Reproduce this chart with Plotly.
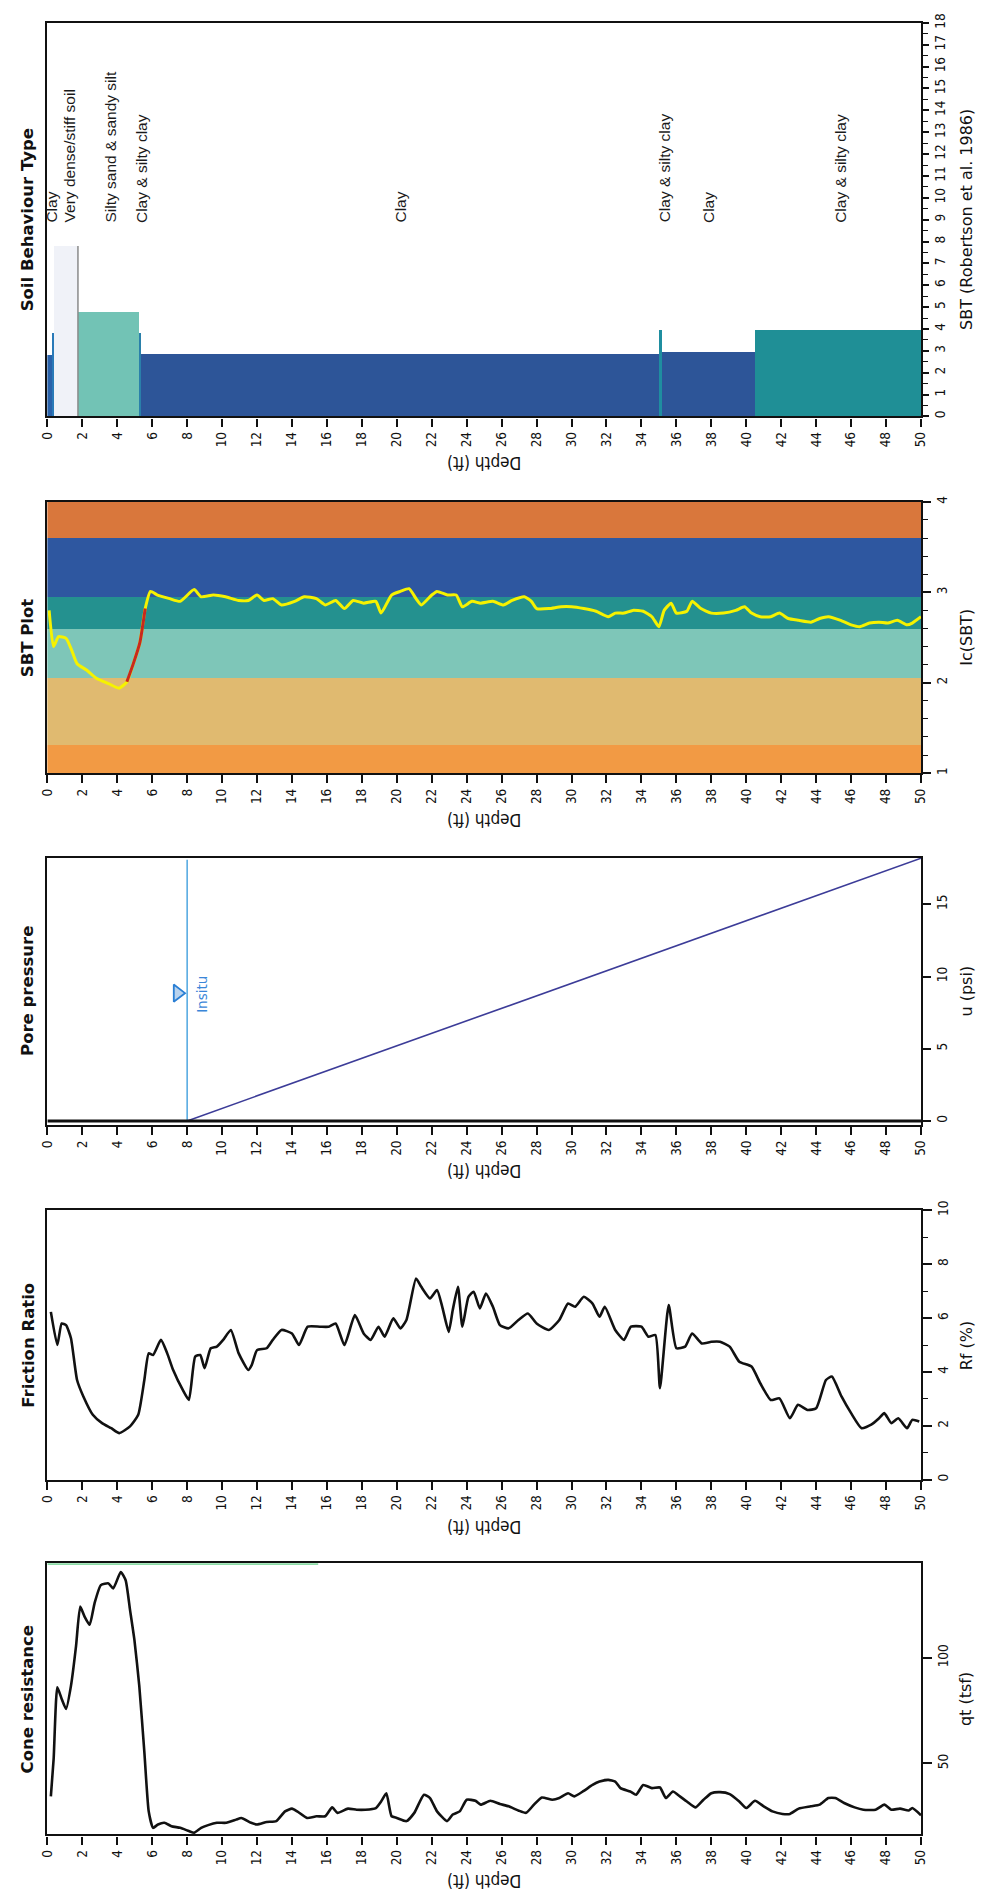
import plotly.graph_objects as go

# ---------------- data ----------------
depth_ticks = list(range(0, 51, 2))

# Soil Behaviour Type layers (depth in ft)
sbt_layer_top = [0.0, 0.3, 0.4, 1.75, 5.25, 5.4, 35.0, 35.2, 40.5]
sbt_layer_bottom = [0.3, 0.4, 1.75, 5.25, 5.4, 35.0, 35.2, 40.5, 50.0]
sbt_layer_value = [2.8, 3.8, 7.8, 4.8, 3.8, 2.85, 3.95, 2.95, 3.95]
sbt_layer_color = ["#2a62aa", "#2a7ab8", "#f0f2f8", "#72c3b5", "#2a80aa",
                   "#2d5598", "#1f8ea0", "#2d5598", "#1f8f96"]
sbt_label_text = ["Clay", "Very dense/stiff soil", "Silty sand & sandy silt",
                  "Clay & silty clay", "Clay", "Clay & silty clay", "Clay",
                  "Clay & silty clay"]
sbt_label_depth = [0.23, 1.25, 3.6, 5.35, 20.2, 35.3, 37.8, 45.4]
sbt_ticks = list(range(0, 19))

# Ic zone bands
ic_zone_low = [1.0, 1.31, 2.05, 2.6, 2.95, 3.6]
ic_zone_high = [1.31, 2.05, 2.6, 2.95, 3.6, 4.0]
ic_zone_color = ["#f29a44", "#e0ba70", "#7ec6b8", "#24918f", "#2e57a0", "#d9773c"]

# Ic(SBT) profile
ic_depth = [0.1, 0.35, 0.64, 1.07, 1.35, 1.7, 2.24, 2.8, 3.5, 4.1, 4.55, 4.9, 5.3, 5.6,
            5.9, 6.3, 7.0, 7.6, 8.4, 8.8, 9.5, 10.2, 10.95, 11.5, 12.0, 12.4, 12.9, 13.4,
            14.15, 14.7, 15.4, 15.9, 16.5, 17.0, 17.5, 18.1, 18.8, 19.1, 19.7, 20.2, 20.7,
            21.1, 21.4, 22.0, 22.3, 22.9, 23.4, 23.75, 24.3, 24.8, 25.5, 26.1, 26.6, 27.3,
            27.7, 28.0, 28.7, 29.4, 30.0, 30.7, 31.4, 32.1, 32.5, 33.0, 33.5, 34.1, 34.6,
            35.0, 35.3, 35.7, 36.0, 36.6, 36.9, 37.4, 38.0, 38.7, 39.4, 39.9, 40.3, 40.8,
            41.4, 41.9, 42.4, 43.0, 43.7, 44.2, 44.7, 45.4, 46.0, 46.5, 47.05, 47.6, 48.1,
            48.65, 49.2, 49.5, 50.0]
ic_values = [2.80, 2.40, 2.51, 2.49, 2.38, 2.21, 2.14, 2.05, 1.99, 1.94, 2.01, 2.20, 2.45,
             2.82, 3.01, 2.97, 2.93, 2.90, 3.03, 2.95, 2.97, 2.95, 2.91, 2.91, 2.97, 2.91,
             2.93, 2.86, 2.90, 2.95, 2.93, 2.86, 2.91, 2.82, 2.91, 2.88, 2.90, 2.77, 2.97,
             3.01, 3.04, 2.93, 2.86, 2.97, 3.01, 2.97, 2.97, 2.84, 2.90, 2.88, 2.90, 2.86,
             2.91, 2.95, 2.90, 2.82, 2.82, 2.84, 2.84, 2.82, 2.79, 2.73, 2.77, 2.77, 2.80,
             2.79, 2.73, 2.62, 2.80, 2.88, 2.77, 2.79, 2.90, 2.82, 2.77, 2.77, 2.80, 2.84,
             2.77, 2.73, 2.73, 2.77, 2.71, 2.69, 2.67, 2.71, 2.73, 2.69, 2.64, 2.62, 2.66,
             2.67, 2.66, 2.69, 2.64, 2.66, 2.73]
ic_red_depth = [4.55, 4.9, 5.3, 5.6]
ic_red_values = [2.01, 2.20, 2.45, 2.82]

# Pore pressure
u_depth = [0.0, 50.0]
u_measured = [0.0, 0.0]
u_hydro_depth = [8.0, 50.0]
u_hydro = [0.0, 18.2]
water_table_depth = 8.0
u_ticks = [0, 5, 10, 15]

# Friction ratio
rf_depth = [0.2, 0.57, 0.82, 1.07, 1.35, 1.7, 2.06, 2.6, 3.13, 3.66,
            4.12, 4.73, 5.2, 5.55, 5.8, 6.05, 6.5, 6.86, 7.2, 7.75,
            8.1, 8.46, 8.75, 9.0, 9.35, 9.7, 10.06, 10.5, 10.95, 11.5,
            11.7, 12.0, 12.55, 12.9, 13.4, 14.0, 14.4, 14.9, 15.6, 16.1,
            16.5, 17.0, 17.6, 18.1, 18.5, 18.95, 19.3, 19.8, 20.2, 20.55,
            21.1, 21.4, 21.9, 22.3, 22.6, 22.97, 23.2, 23.5, 23.75, 24.1,
            24.4, 24.75, 25.1, 25.5, 25.9, 26.4, 26.96, 27.5, 28.0, 28.7,
            29.3, 29.8, 30.2, 30.7, 31.2, 31.6, 31.9, 32.5, 33.0, 33.4,
            34.0, 34.4, 34.8, 35.06, 35.56, 36.0, 36.5, 36.9, 37.45, 38.0,
            38.5, 39.05, 39.6, 40.3, 40.8, 41.4, 41.9, 42.5, 42.96, 43.5,
            44.0, 44.56, 44.9, 45.45, 46.0, 46.6, 47.15, 47.6, 47.9, 48.3,
            48.7, 49.2, 49.5, 49.9]
rf_values = [6.23, 5.0, 5.8, 5.74, 5.25, 3.7, 3.09, 2.41, 2.10, 1.91,
             1.73, 1.98, 2.41, 3.70, 4.69, 4.63, 5.19, 4.69, 4.07, 3.33,
             2.96, 4.57, 4.63, 4.14, 4.88, 4.94, 5.19, 5.56, 4.69, 4.07,
             4.26, 4.81, 4.88, 5.19, 5.56, 5.43, 5.0, 5.68, 5.68, 5.68,
             5.80, 5.0, 6.11, 5.43, 5.19, 5.68, 5.31, 5.99, 5.62, 5.93,
             7.47, 7.16, 6.73, 7.04, 6.42, 5.49, 6.30, 7.16, 5.68, 6.79,
             6.98, 6.36, 6.91, 6.42, 5.74, 5.62, 5.93, 6.17, 5.80, 5.56,
             5.93, 6.54, 6.42, 6.79, 6.54, 6.05, 6.42, 5.56, 5.19, 5.68,
             5.68, 5.31, 5.37, 3.40, 6.48, 4.88, 4.94, 5.43, 5.06, 5.12,
             5.12, 4.94, 4.38, 4.20, 3.58, 2.96, 3.02, 2.28, 2.78, 2.59,
             2.65, 3.70, 3.83, 3.09, 2.47, 1.91, 2.04, 2.28, 2.47, 2.10,
             2.28, 1.91, 2.22, 2.16]
rf_ticks = [0, 2, 4, 6, 8, 10]

# Cone resistance
qt_depth = [0.2, 0.36, 0.57, 0.82, 1.07, 1.35, 1.64, 1.88, 2.13, 2.42,
            2.7, 3.06, 3.5, 3.77, 4.2, 4.48, 4.73, 4.98, 5.26, 5.55,
            5.8, 6.05, 6.33, 6.7, 7.1, 7.6, 8.1, 8.4, 8.8, 9.2,
            9.7, 10.24, 10.8, 11.1, 11.66, 12.0, 12.55, 13.1, 13.6, 14.0,
            14.3, 14.86, 15.4, 15.9, 16.3, 16.6, 17.2, 17.7, 18.2, 18.8,
            19.1, 19.4, 19.7, 20.0, 20.55, 21.0, 21.55, 21.9, 22.3, 22.87,
            23.2, 23.6, 24.0, 24.5, 24.8, 25.35, 25.9, 26.4, 26.96, 27.4,
            27.85, 28.3, 28.9, 29.3, 29.8, 30.16, 30.7, 31.2, 31.6, 32.1,
            32.5, 32.8, 33.36, 33.7, 34.1, 34.6, 35.06, 35.4, 35.8, 36.2,
            36.6, 37.1, 37.55, 38.0, 38.5, 39.05, 39.6, 40.0, 40.5, 41.0,
            41.5, 42.07, 42.5, 43.0, 43.7, 44.2, 44.7, 45.1, 45.6, 46.2,
            46.7, 47.4, 47.9, 48.3, 48.8, 49.3, 49.5, 50.0]
qt_values = [34.4, 52.3, 86.0, 80.5, 75.8, 86.7, 105.5, 124.2, 119.5, 115.6,
             125.8, 134.4, 135.2, 132.8, 140.6, 136.7, 122.7, 108.6, 86.7, 55.5,
             27.3, 19.5, 21.1, 21.9, 20.3, 19.5, 18.0, 17.2, 19.5, 20.8,
             21.9, 21.9, 23.4, 24.2, 21.9, 21.1, 22.3, 22.7, 27.3, 28.6,
             27.3, 24.2, 25.0, 25.0, 29.2, 26.6, 28.6, 28.1, 28.1, 28.9,
             32.0, 35.9, 25.0, 24.2, 22.7, 26.6, 35.2, 33.6, 27.3, 22.7,
             25.8, 27.3, 32.8, 32.3, 30.5, 32.3, 30.8, 29.7, 27.7, 26.6,
             30.5, 33.9, 32.8, 33.6, 35.9, 34.4, 37.0, 39.8, 41.4, 42.2,
             41.4, 38.3, 36.7, 35.2, 39.8, 38.3, 38.6, 33.6, 36.7, 34.4,
             32.0, 29.2, 32.8, 35.9, 36.4, 35.5, 32.0, 28.9, 32.3, 29.7,
             27.3, 26.1, 26.1, 28.6, 29.7, 30.5, 33.6, 33.6, 31.25, 29.2,
             28.1, 28.1, 30.5, 28.1, 28.6, 27.7, 28.9, 25.5]
qt_ticks = [50, 100]
qt_green_depth = [0.0, 15.5]

# ---------------- layout geometry ----------------
W, H = 989, 1902
X0, X1 = 39, 927
# (top px, bottom px) of each plot area
panels = {
    "sbt": (13, 409),
    "ic": (495, 768),
    "u": (853, 1122),
    "rf": (1208, 1479),
    "qt": (1563, 1836),
}
order = ["sbt", "ic", "u", "rf", "qt"]
ax = {k: ("" if i == 0 else str(i + 1)) for i, k in enumerate(order)}

TICKFONT = dict(family="DejaVu Sans Condensed, DejaVu Sans", size=13.5, color="#111")

fig = go.Figure()


def xy(k):
    return dict(xaxis="x" + ax[k], yaxis="y" + ax[k])


# Soil behaviour type bars
fig.add_trace(go.Bar(
    x=[(t + b) / 2 for t, b in zip(sbt_layer_top, sbt_layer_bottom)],
    y=sbt_layer_value,
    width=[b - t for t, b in zip(sbt_layer_top, sbt_layer_bottom)],
    marker=dict(color=sbt_layer_color, line=dict(width=0)),
    hoverinfo="skip", **xy("sbt")))
fig.add_trace(go.Scatter(
    x=[sbt_layer_bottom[2], sbt_layer_bottom[2]], y=[0, sbt_layer_value[2]],
    mode="lines", line=dict(color="#8a8a8a", width=1.5), hoverinfo="skip", **xy("sbt")))

# Ic zone bands
fig.add_trace(go.Bar(
    x=[25] * len(ic_zone_low), y=[h - l for l, h in zip(ic_zone_low, ic_zone_high)],
    base=ic_zone_low, width=[50] * len(ic_zone_low),
    marker=dict(color=ic_zone_color, line=dict(width=0)),
    hoverinfo="skip", **xy("ic")))
fig.add_trace(go.Scatter(
    x=ic_depth, y=ic_values, mode="lines",
    line=dict(color="#f6f200", width=3, shape="spline", smoothing=0.5),
    hoverinfo="skip", **xy("ic")))
fig.add_trace(go.Scatter(
    x=ic_red_depth, y=ic_red_values, mode="lines",
    line=dict(color="#c8281e", width=3, shape="spline", smoothing=0.5),
    hoverinfo="skip", **xy("ic")))

# Pore pressure
fig.add_trace(go.Scatter(
    x=[water_table_depth, water_table_depth], y=[0, 18.1], mode="lines",
    line=dict(color="#4ea6e0", width=1.5), hoverinfo="skip", **xy("u")))
fig.add_trace(go.Scatter(
    x=u_hydro_depth, y=u_hydro, mode="lines",
    line=dict(color="#3c3c98", width=1.6), hoverinfo="skip", **xy("u")))
fig.add_trace(go.Scatter(
    x=u_depth, y=u_measured, mode="lines",
    line=dict(color="#111", width=3), hoverinfo="skip", **xy("u")))
fig.add_trace(go.Scatter(
    x=[water_table_depth - 0.55], y=[8.85], mode="markers",
    marker=dict(symbol="triangle-right", size=15, color="#b9d3ee",
                line=dict(color="#2a7fd4", width=1.8)),
    hoverinfo="skip", **xy("u")))

# Friction ratio
fig.add_trace(go.Scatter(
    x=rf_depth, y=rf_values, mode="lines",
    line=dict(color="#111", width=2.6, shape="spline", smoothing=0.5),
    hoverinfo="skip", **xy("rf")))

# Cone resistance
fig.add_trace(go.Scatter(
    x=qt_green_depth, y=[144.4, 144.4], mode="lines",
    line=dict(color="#66d08a", width=1.5), hoverinfo="skip", **xy("qt")))
fig.add_trace(go.Scatter(
    x=qt_depth, y=qt_values, mode="lines",
    line=dict(color="#111", width=2.6, shape="spline", smoothing=0.5),
    hoverinfo="skip", **xy("qt")))

yconf = {
    "sbt": dict(range=[0, 18], tickvals=sbt_ticks, minor=dict(tick0=0, dtick=0.5), ticklen=6),
    "ic": dict(range=[1, 4], tickvals=[1, 2, 3, 4], minor=dict(tick0=1, dtick=0.2), ticklen=8),
    "u": dict(range=[-0.28, 18.24], tickvals=u_ticks, minor=None, ticklen=8),
    "rf": dict(range=[0, 10], tickvals=rf_ticks, minor=dict(tick0=0, dtick=1), ticklen=9),
    "qt": dict(range=[16.4, 144.8], tickvals=qt_ticks, minor=None, ticklen=9),
}
ytitles = {"sbt": "SBT (Robertson et al. 1986)", "ic": "Ic(SBT)", "u": "u (psi)",
           "rf": "Rf (%)", "qt": "qt (tsf)"}
ptitles = {"sbt": "Soil Behaviour Type", "ic": "SBT Plot", "u": "Pore pressure",
           "rf": "Friction Ratio", "qt": "Cone resistance"}

layout = dict(
    width=W, height=H, margin=dict(l=0, r=0, t=0, b=0),
    paper_bgcolor="white", plot_bgcolor="white", showlegend=False,
    barmode="overlay", bargap=0,
)
annotations = []
for k in order:
    top, bot = panels[k]
    sfx = ax[k]
    ydom = [1 - bot / H, 1 - top / H]
    lw = 2.2
    layout["xaxis" + sfx] = dict(
        domain=[X0 / W, X1 / W], anchor="y" + sfx, range=[0, 50],
        tickmode="array", tickvals=depth_ticks, tickangle=-90,
        ticks="outside", ticklen=8, tickwidth=1.6, tickcolor="#111",
        tickfont=TICKFONT, showgrid=False, zeroline=False,
        showline=True, linecolor="#111", linewidth=lw, mirror=True,
    )
    yc = yconf[k]
    ya = dict(
        domain=ydom, anchor="x" + sfx, side="right", range=yc["range"],
        tickmode="array", tickvals=yc["tickvals"], tickangle=-90,
        ticks="outside", ticklen=yc["ticklen"], tickwidth=1.6, tickcolor="#111",
        tickfont=TICKFONT, showgrid=False, zeroline=False,
        showline=True, linecolor="#111", linewidth=lw, mirror=True,
    )
    if yc["minor"]:
        ya["minor"] = dict(tick0=yc["minor"]["tick0"], dtick=yc["minor"]["dtick"],
                           ticks="outside", ticklen=5, tickwidth=1.4,
                           tickcolor="#111", showgrid=False)
    layout["yaxis" + sfx] = ya

    cy = 1 - (top + bot) / 2 / H
    annotations.append(dict(
        text=ptitles[k], x=19 / W, y=cy, xref="paper", yref="paper",
        textangle=-90, showarrow=False, xanchor="center", yanchor="middle",
        font=dict(family="DejaVu Sans", size=16.5, color="#111", weight="bold")))
    annotations.append(dict(
        text=ytitles[k], x=973 / W, y=cy, xref="paper", yref="paper",
        textangle=-90, showarrow=False, xanchor="center", yanchor="middle",
        font=dict(family="DejaVu Sans", size=16, color="#111")))
    annotations.append(dict(
        text="Depth (ft)", x=(X0 + X1) / 2 / W, y=1 - (bot + 47) / H,
        xref="paper", yref="paper", textangle=180, showarrow=False,
        xanchor="center", yanchor="middle",
        font=dict(family="DejaVu Sans Condensed, DejaVu Sans", size=17, color="#111")))

for txt, d in zip(sbt_label_text, sbt_label_depth):
    annotations.append(dict(
        text=txt, x=d, y=8.77, xref="x" + ax["sbt"], yref="y" + ax["sbt"],
        textangle=-90, showarrow=False, xanchor="center", yanchor="bottom",
        font=dict(family="Liberation Sans, Arial", size=15.5, color="#1a1a1a")))

annotations.append(dict(
    text="Insitu", x=water_table_depth + 0.85, y=8.8,
    xref="x" + ax["u"], yref="y" + ax["u"], textangle=-90, showarrow=False,
    xanchor="center", yanchor="middle",
    font=dict(family="DejaVu Sans", size=13.5, color="#3a86d8")))

layout["annotations"] = annotations
fig.update_layout(**layout)

fig.write_html("out.html", config={"displayModeBar": False},
               post_script="document.body.style.margin='0';")
